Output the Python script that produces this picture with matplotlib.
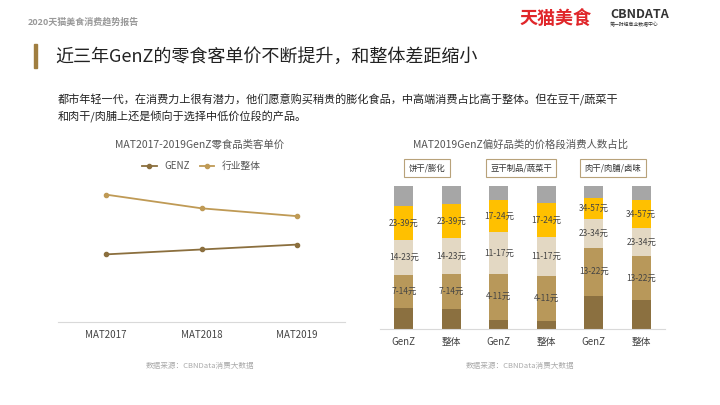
import numpy as np
import matplotlib.pyplot as plt
from matplotlib.patches import Rectangle

plt.rcParams['font.family'] = ['Noto Sans CJK SC']

# left chart data
years = ["MAT2017", "MAT2018", "MAT2019"]
genz = [69, 74, 79]
industry = [130, 116, 108]

# right chart data (shares, bottom -> top)
bar_labels = ["GenZ", "整体", "GenZ", "整体", "GenZ", "整体"]
groups = ["饼干/膨化", "豆干制品/蔬菜干", "肉干/肉脯/卤味"]
seg_dark = [14.7, 14.3, 6.5, 5.4, 23.4, 20.1]
seg_tan = [23.4, 24.5, 32.2, 31.5, 33.4, 30.8]
seg_light = [23.8, 24.5, 29.0, 27.6, 20.3, 19.6]
seg_yellow = [24.0, 23.8, 22.2, 23.4, 14.7, 19.6]
seg_gray = [14.1, 12.9, 10.1, 12.1, 8.2, 9.9]
price_tan = ["7-14元", "7-14元", "4-11元", "4-11元", "13-22元", "13-22元"]
price_light = ["14-23元", "14-23元", "11-17元", "11-17元", "23-34元", "23-34元"]
price_yellow = ["23-39元", "23-39元", "17-24元", "17-24元", "34-57元", "34-57元"]

W, H = 720, 405
fig = plt.figure(figsize=(W / 100, H / 100), dpi=100)

def fx(x): return x / W
def fy(y): return 1 - y / H

# header
fig.text(fx(28), fy(22), "2020天猫美食消费趋势报告", fontsize=6.5, color="#999999", weight="bold", va="center")
fig.text(fx(520), fy(18), "天猫美食", fontsize=13, color="#e0262a", weight="bold", va="center")
fig.text(fx(610), fy(15), "CBNDATA", fontsize=9, color="#333333", weight="bold", va="center")
fig.text(fx(610), fy(25), "第一财经商业数据中心", fontsize=3.5, color="#333333", va="center")
fig.add_artist(Rectangle((fx(34), fy(68)), 3 / W, 24 / H, color="#a07e40", transform=fig.transFigure))
fig.text(fx(55), fy(57), "近三年GenZ的零食客单价不断提升，和整体差距缩小", fontsize=13, color="#222222", va="center")
fig.text(fx(58), fy(100), "都市年轻一代，在消费力上很有潜力，他们愿意购买稍贵的膨化食品，中高端消费占比高于整体。但在豆干/蔬菜干",
         fontsize=8, color="#222222", va="center")
fig.text(fx(58), fy(117), "和肉干/肉脯上还是倾向于选择中低价位段的产品。", fontsize=8, color="#222222", va="center")

# left line chart
ax = fig.add_axes([fx(58), fy(322), fx(345 - 58), (322 - 175) / H])
x = np.arange(len(years))
ax.plot(x, genz, color="#8b6f3e", marker="o", markersize=3, lw=1.3, label="GENZ")
ax.plot(x, industry, color="#bf9a55", marker="o", markersize=3, lw=1.3, label="行业整体")
ax.set_xlim(-0.5, 2.5)
ax.set_ylim(0, 150)
ax.set_yticks([])
ax.set_xticks(x)
ax.set_xticklabels(years, fontsize=7, color="#444444")
ax.tick_params(length=0, pad=6)
for s in ["top", "right", "left"]:
    ax.spines[s].set_visible(False)
ax.spines["bottom"].set_color("#d9d9d9")
ax.legend(loc="center", bbox_to_anchor=(0.5, 1.06), ncol=2, frameon=False, fontsize=7,
          handlelength=1.5, columnspacing=1, labelcolor="#555555")
fig.text(fx(200), fy(145), "MAT2017-2019GenZ零食品类客单价", fontsize=7.5, color="#555555", ha="center", va="center")
fig.text(fx(200), fy(366), "数据来源：CBNData消费大数据", fontsize=5.5, color="#aaaaaa", ha="center", va="center")

# right stacked bar chart
ax2 = fig.add_axes([fx(380), fy(329), fx(665 - 380), (329 - 186) / H])
xb = np.arange(len(bar_labels))
colors = ["#8b7040", "#b8985a", "#e3d8c3", "#ffc000", "#a6a6a6"]
segs = [seg_dark, seg_tan, seg_light, seg_yellow, seg_gray]
texts = [None, price_tan, price_light, price_yellow, None]
bottom = np.zeros(len(xb))
for vals, c, lab in zip(segs, colors, texts):
    vals = np.array(vals)
    ax2.bar(xb, vals, bottom=bottom, width=0.4, color=c)
    if lab is not None:
        for i in range(len(xb)):
            ax2.text(xb[i], bottom[i] + vals[i] / 2, lab[i], ha="center", va="center", fontsize=6, color="#444444")
    bottom += vals
ax2.set_xlim(-0.5, 5.5)
ax2.set_ylim(0, 100)
ax2.set_yticks([])
ax2.set_xticks(xb)
ax2.set_xticklabels(bar_labels, fontsize=7, color="#444444")
ax2.tick_params(length=0, pad=6)
for s in ["top", "right", "left"]:
    ax2.spines[s].set_visible(False)
ax2.spines["bottom"].set_color("#d9d9d9")
for g, gx in zip(groups, [427, 521, 613]):
    fig.text(fx(gx), fy(168), g, fontsize=6, color="#333333", ha="center", va="center",
             bbox=dict(boxstyle="square,pad=0.5", fc="white", ec="#b8a27a", lw=0.8))
fig.text(fx(520), fy(145), "MAT2019GenZ偏好品类的价格段消费人数占比", fontsize=7.5, color="#555555", ha="center", va="center")
fig.text(fx(520), fy(366), "数据来源：CBNData消费大数据", fontsize=5.5, color="#aaaaaa", ha="center", va="center")

fig.savefig("out.png", dpi=100)
